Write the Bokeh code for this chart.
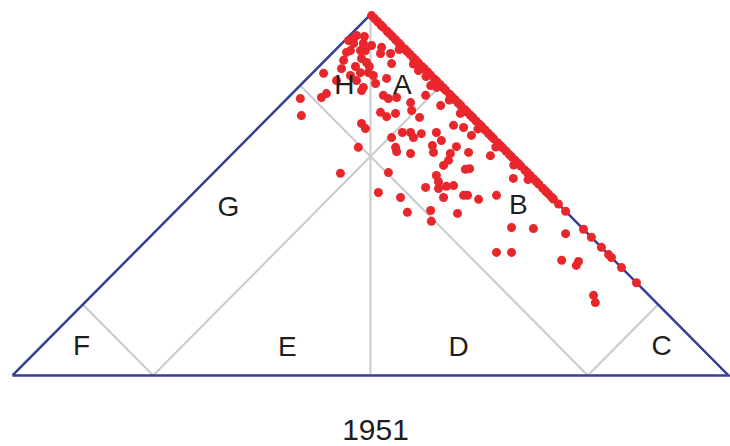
from bokeh.plotting import figure
from bokeh.embed import file_html
from bokeh.resources import INLINE
from bokeh.core.properties import value

# ---- data (percent coordinates: x = right share - left share, y = top share) ----
year_label = "1951"
split = 60.7  # boundary value for the region lines

region_labels = ["H", "A", "G", "B", "F", "E", "D", "C"]
region_x = [-7.3, 8.9, -39.7, 41.3, -80.7, -23.2, 24.6, 81.3]
region_y = [80.6, 80.6, 46.8, 47.4, 8.3, 8.0, 8.0, 8.3]

# scattered observations
pts_x = [-3.9, -4.7, -5.6, -2.0, -1.4, -2.5, -1.1, -7.5, -8.1, -13.1, -2.8, -0.6, -3.9,
         -2.0, -13.7, -12.3, -19.6, -19.3, -2.5, -1.4, -3.4, -8.4, -4.7, -2.5, -0.3,
         -6.1, -2.8, -4.2, -6.7, -1.7, -5.6, -9.5,
         0.3, 3.1, 2.8, 5.6, 5.9, 0.8, 1.4, 4.5, 3.6, 5.0, 7.3, 2.8, 4.5, 7.0, 11.2, 11.5,
         13.7, 13.4, 16.8, 15.4, 19.6, 5.9, 8.9, 11.2, 12.0, 14.2, 7.0, 7.3, 11.2, 18.4,
         19.8, 17.3, 17.6, 23.2, 26.0, 28.2, 24.0, 22.3, 27.4, 21.8, 20.4, 26.5, 27.7,
         18.4, 19.0, 33.5, 5.0, 2.2, 15.4, 19.0, 21.2, 23.2, 20.4, 26.0, 27.1, 30.2, 35.2,
         39.9, 8.4, 10.3, 16.8, 17.0, 24.3, 39.4, 45.5, 35.2, 39.4, 54.5, 53.4, 57.5,
         58.1, 62.3, 62.8, 25.1,
         8.0, 12.0, 15.5, 18.5, 22.0, 30.0, 35.0, 40.0, 44.0]
pts_y = [94.2, 92.0, 90.0, 92.0, 90.0, 87.8, 86.7, 87.3, 85.0, 83.7, 83.9, 83.9, 81.7,
         79.8, 77.0, 78.1, 76.7, 72.0, 69.8, 68.4, 63.2, 56.0, 93.4, 78.9, 85.6,
         92.8, 90.0, 85.6, 89.5, 93.9, 83.1, 81.7,
         91.4, 90.9, 89.2, 89.2, 86.4, 83.1, 80.9, 82.3, 77.6, 76.7, 77.0, 72.9, 71.7, 72.6,
         75.6, 73.4, 71.5, 84.5, 80.3, 77.6, 74.8, 65.9, 67.3, 67.3, 65.9, 67.0, 63.2, 62.0,
         61.5, 67.3, 65.1, 63.7, 61.8, 69.3, 68.7, 66.5, 63.4, 61.5, 61.8, 59.6, 58.2, 57.1,
         57.3, 55.4, 53.7, 60.9, 56.2, 50.7, 52.1, 51.8, 52.4, 52.6, 49.3, 49.9, 49.9, 48.8,
         49.9, 54.6, 49.3, 45.2, 45.7, 42.7, 44.9, 41.0, 40.7, 34.1, 34.1, 39.3, 31.9, 30.5,
         31.6, 22.2, 20.2, 72.6,
         90.3, 86.3, 82.8, 79.8, 76.3, 68.3, 63.3, 58.3, 54.3]

# observations with zero left share (on the right side)
edge_x = [0.3, 1.2, 2.0, 2.9, 3.5, 4.6, 5.3, 6.1, 7.0, 7.8,
          8.4, 9.5, 10.2, 11.0, 11.9, 12.6, 13.4, 14.5, 15.1, 16.0,
          16.8, 17.9, 18.5, 19.4, 20.3, 21.0, 22.1, 22.8, 23.6, 24.5,
          25.2, 26.3, 27.0, 27.9, 28.6, 29.5, 30.4, 31.1, 32.0, 32.9,
          33.7, 34.4, 35.5, 36.2, 37.0, 37.9, 38.8, 39.5, 40.4, 41.2,
          42.0, 43.1, 43.8, 44.6, 45.5, 46.3, 47.0, 48.1, 48.9, 49.7,
          50.6, 51.1, 52.5, 54.5, 59.5, 61.7, 64.5, 66.5, 67.3, 70.1,
          74.3]
edge_y = [99.7, 98.8, 98.0, 97.1, 96.5, 95.4, 94.7, 93.9, 93.0, 92.2,
          91.6, 90.5, 89.8, 89.0, 88.1, 87.4, 86.6, 85.5, 84.9, 84.0,
          83.2, 82.1, 81.5, 80.6, 79.7, 79.0, 77.9, 77.2, 76.4, 75.5,
          74.8, 73.7, 73.0, 72.1, 71.4, 70.5, 69.6, 68.9, 68.0, 67.1,
          66.3, 65.6, 64.5, 63.8, 63.0, 62.1, 61.2, 60.5, 59.6, 58.8,
          58.0, 56.9, 56.2, 55.4, 54.5, 53.7, 53.0, 51.9, 51.1, 50.3,
          49.4, 48.9, 47.5, 45.5, 40.5, 38.3, 35.5, 33.5, 32.7, 29.9,
          25.7]

# ---- styles ----
RED = "#E8262B"
NAVY = "#343F92"
GRAY = "#C7CBCF"
TXT = "#1E1E1E"
FONT = value("Liberation Sans")

p = figure(width=730, height=446, output_backend="svg", toolbar_location=None,
           x_range=(-103.35, 100.56), y_range=(-19.67, 103.88),
           min_border=0, outline_line_color=None)
p.axis.visible = False
p.grid.visible = False
p.background_fill_color = "white"
p.border_fill_color = "white"

c = split
half_hi = (100 + c) / 2
half_lo = (100 - c) / 2
# region boundary lines
p.segment(x0=[0, -c, c, -c, c],
          y0=[0, 0, 0, 0, 0],
          x1=[0, half_lo, -half_lo, -half_hi, half_hi],
          y1=[100, half_hi, half_hi, half_lo, half_lo],
          line_color=GRAY, line_width=2)

# triangle outline
p.line(x=[-100, 0, 100, -100], y=[0, 100, 0, 0], line_color=NAVY, line_width=2.5,
       line_join="miter")

# points
p.scatter(x=edge_x, y=edge_y, size=9, fill_color=RED, line_color=None)
p.scatter(x=pts_x, y=pts_y, size=9, fill_color=RED, line_color=None)

# labels
p.text(x=region_x, y=region_y, text=region_labels, text_font=FONT,
       text_font_size="28px", text_color=TXT, text_align="center",
       text_baseline="middle")
p.text(x=[1.4], y=[-15.0], text=[year_label], text_font=FONT,
       text_font_size="30px", text_color=TXT, text_align="center",
       text_baseline="middle")

open("out.html", "w").write(file_html(p, INLINE))
